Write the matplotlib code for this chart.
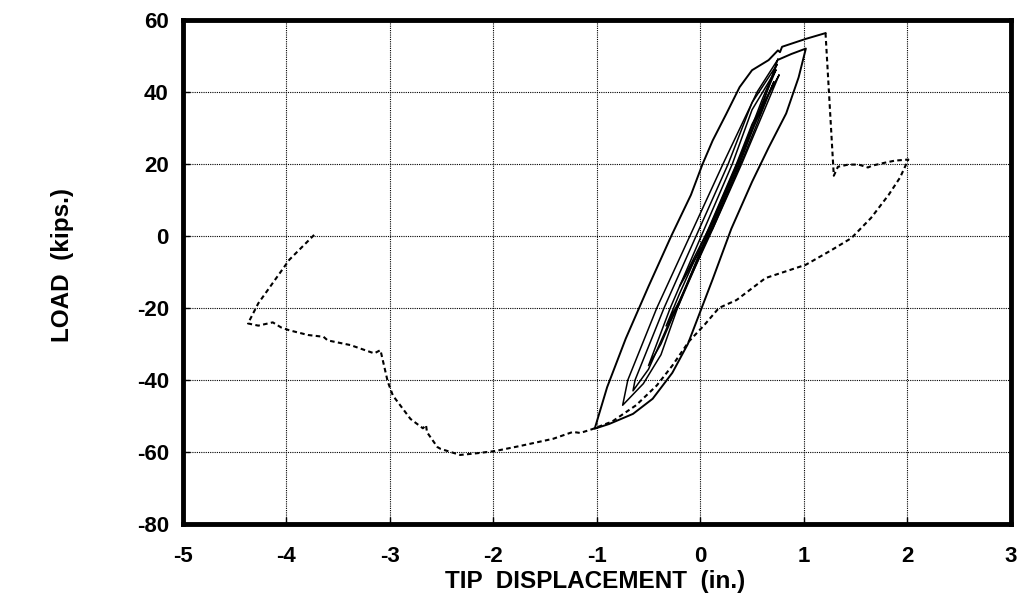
# Load vs tip displacement: cyclic loops (solid) and envelope (dashed)
import matplotlib
matplotlib.use("Agg")
import matplotlib.pyplot as plt

plt.rcParams['font.family'] = ['Liberation Sans', 'DejaVu Sans']
plt.rcParams['font.weight'] = 'bold'
plt.rcParams['axes.unicode_minus'] = False

# dashed envelope, traced from the peak down to the far left end
env_x = [1.21, 1.29, 1.33, 1.43, 1.53, 1.62, 1.66, 1.78, 1.88, 2.01,
         1.93, 1.82, 1.65, 1.46, 1.27, 1.02, 0.63, 0.35, 0.18, 0.04,
         -0.11, -0.27, -0.42, -0.62, -0.85, -1.04, -1.16, -1.23, -1.42, -1.74,
         -1.98, -2.15, -2.32, -2.51, -2.54, -2.64, -2.65, -2.68, -2.8, -2.97,
         -3.02, -3.09, -3.15, -3.38, -3.6, -3.64, -3.79, -3.97, -4.05, -4.13,
         -4.27, -4.37, -4.27, -3.97, -3.73]
env_y = [56.3, 16.7, 19.2, 19.8, 19.8, 19.0, 19.5, 20.3, 20.9, 21.2,
         16.2, 11.4, 5.0, -0.6, -3.9, -8.0, -11.7, -17.8, -20.0, -24.7,
         -29.3, -36.0, -41.5, -47.0, -51.5, -53.6, -54.7, -54.4, -56.3, -58.3,
         -59.7, -60.3, -60.8, -59.1, -58.6, -54.5, -52.5, -53.4, -50.8, -44.3,
         -40.4, -31.7, -32.6, -30.3, -29.0, -28.0, -27.5, -26.2, -25.4, -24.0,
         -24.9, -24.3, -18.7, -6.6, 0.3]

# outer solid loop ending at the peak load
outer_x = [0.76, 0.88, 1.02, 0.95, 0.83, 0.66, 0.5, 0.3, 0.12, 0.0,
           -0.12, -0.27, -0.46, -0.65, -0.88, -1.02, -0.9, -0.72, -0.5, -0.28,
           -0.09, 0.02, 0.12, 0.25, 0.38, 0.5, 0.66, 0.75, 0.77, 0.79, 1.02, 1.21]
outer_y = [49.0, 50.5, 52.0, 44.0, 34.0, 24.5, 15.0, 2.0, -12.0, -21.0,
           -30.0, -38.0, -45.2, -49.4, -52.2, -53.5, -42.0, -28.5, -14.0, 0.0,
           11.4, 19.8, 26.5, 33.8, 41.3, 46.0, 48.8, 51.5, 51.0, 52.5, 54.7, 56.3]

# inner loops
loop2_x = [0.75, 0.55, 0.22, -0.1, -0.42, -0.7, -0.75, -0.55, -0.38, -0.22, 0.08, 0.38, 0.62, 0.75]
loop2_y = [49, 40, 20, 0, -20, -40, -47, -41, -33, -20, 0, 20, 38, 49]
loop3_x = [0.74, 0.5, 0.27, -0.04, -0.35, -0.63, -0.65, -0.5, -0.3, -0.22, 0.06, 0.36, 0.6, 0.74]
loop3_y = [47.5, 37, 20, 0, -20, -40, -43, -37, -24, -20, 0, 20, 38, 47.5]
loop4_x = [0.73, 0.5, 0.31, 0.01, -0.29, -0.5, -0.38, -0.23, 0.07, 0.37, 0.6, 0.73]
loop4_y = [46, 35, 20, 0, -20, -36, -30, -20, 0, 20, 37, 46]
loop5_x = [0.76, 0.5, 0.35, 0.05, -0.2, -0.33, -0.2, 0.09, 0.4, 0.62, 0.76]
loop5_y = [44.6, 31, 20, 0, -16, -25, -18, 0, 20, 35, 44.6]
loop6_x = [0.71, 0.4, 0.1, -0.2, 0.12, 0.42, 0.71]
loop6_y = [42.7, 23, 3, -14, 2, 22, 42.7]

x_ticks = [-5, -4, -3, -2, -1, 0, 1, 2, 3]
y_ticks = [-80, -60, -40, -20, 0, 20, 40, 60]

fig = plt.figure(figsize=(10.21, 5.99), dpi=100)
ax = fig.add_axes([0.179, 0.125, 0.811, 0.842])

ax.plot(env_x, env_y, color='black', lw=1.5, linestyle=(0, (2.2, 1.6)))
ax.plot(outer_x, outer_y, color='black', lw=1.4)
for lx, ly in [(loop2_x, loop2_y), (loop3_x, loop3_y), (loop4_x, loop4_y),
               (loop5_x, loop5_y), (loop6_x, loop6_y)]:
    ax.plot(lx, ly, color='black', lw=1.1)

ax.set_xlim(-5, 3)
ax.set_ylim(-80, 60)
ax.set_xticks(x_ticks)
ax.set_yticks(y_ticks)
ax.grid(True, color='black', lw=0.8, linestyle=(0, (1, 1)))
for s in ax.spines.values():
    s.set_linewidth(3.5)
ax.tick_params(direction='in', length=5, width=1, labelsize=16, pad=10)
ax.tick_params(axis='x', pad=16)
for lab in ax.get_xticklabels() + ax.get_yticklabels():
    lab.set_fontweight('bold')

fig.text(0.583, 0.03, 'TIP  DISPLACEMENT  (in.)', ha='center', va='center',
         fontsize=17.5, fontweight='bold')
fig.text(0.061, 0.557, 'LOAD  (kips.)', ha='center', va='center', rotation=90,
         fontsize=17.5, fontweight='bold')

fig.savefig('out.png', dpi=100)
